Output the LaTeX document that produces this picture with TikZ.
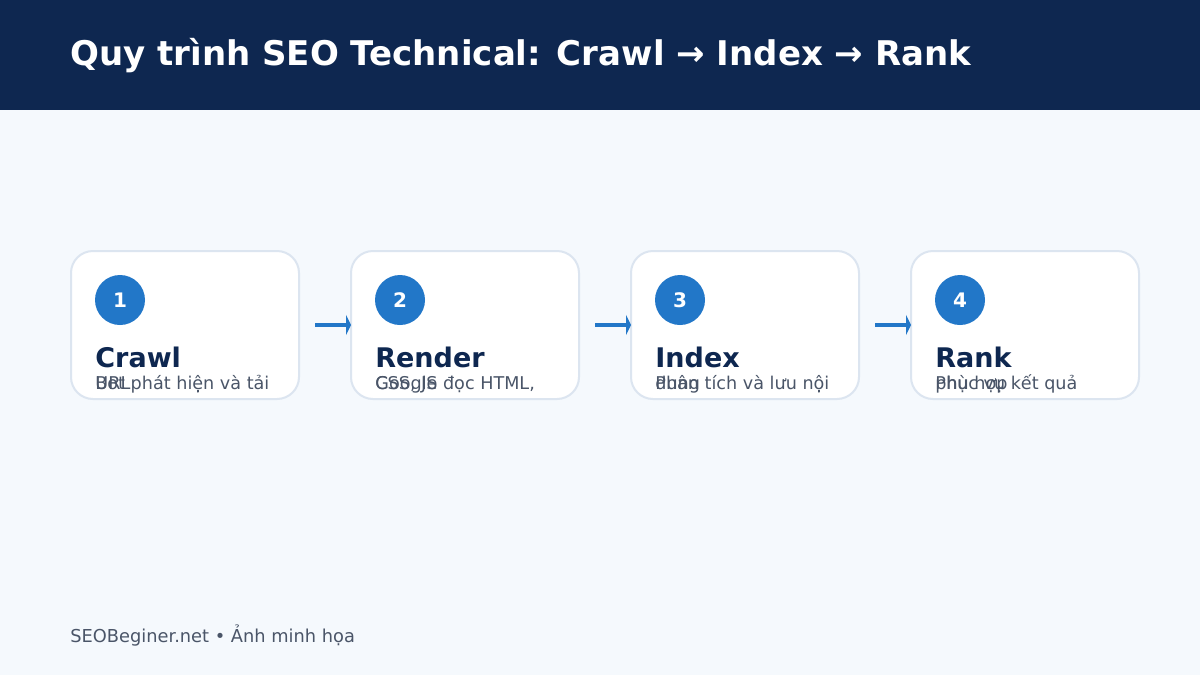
\documentclass[tikz,border=0pt]{standalone}
\usepackage{fontspec}
\setmainfont{DejaVu Sans}
\usetikzlibrary{arrows.meta}
\definecolor{navy}{HTML}{0E2750}
\definecolor{bgpage}{HTML}{F5F9FD}
\definecolor{stepblue}{HTML}{2277C8}
\definecolor{boxline}{HTML}{DCE5F0}
\definecolor{desc}{HTML}{4A5568}
\tikzset{
  stepbox/.style={draw=boxline, line width=1pt, fill=white, rounded corners=11pt},
  num/.style={circle, fill=stepblue, minimum size=25pt, inner sep=0pt, text=white, font=\bfseries\fontsize{10}{12}\selectfont},
  ttl/.style={anchor=base west, inner sep=0pt, text=navy, font=\bfseries\fontsize{13.5}{15}\selectfont},
  dsc/.style={anchor=base west, inner sep=0pt, text=desc, font=\fontsize{8.8}{10}\selectfont},
  link/.style={stepblue, line width=2pt, -{Triangle[length=2.5pt,width=10pt]}}
}
\begin{document}
\begin{tikzpicture}[x=0.5pt,y=-0.5pt]
  \fill[bgpage] (0,0) rectangle (1200,675);
  \fill[navy] (0,0) rectangle (1200,110);
  \node[anchor=base west, inner sep=0pt, text=white, font=\bfseries\fontsize{17}{20}\selectfont] (title) at (70,65) {Quy trình SEO Technical: Crawl → Index → Rank};
  % steps
  \foreach \i/\x/\t/\a/\b in {1/71/Crawl/{Bot phát hiện và tải}/{URL},
                               2/351/Render/{Google đọc HTML,}/{CSS, JS},
                               3/631/Index/{Phân tích và lưu nội}/{dung},
                               4/911/Rank/{Phục vụ kết quả}/{phù hợp}} {
    \draw[stepbox] (\x,251) rectangle ++(228,148);
    \node[num] (n\i) at (\x+49,300) {\i};
    \node[ttl] (t\i) at (\x+24,367) {\t};
    \node[dsc] (d\i) at (\x+24,389) {\a};
    \node[dsc] (e\i) at (\x+24,389) {\b};
    \coordinate (l\i) at (\x,325);
    \coordinate (r\i) at (\x+244,325);
  }
  \draw[link] (r1) -- (l2);
  \draw[link] (r2) -- (l3);
  \draw[link] (r3) -- (l4);
  \node[anchor=base west, inner sep=0pt, text=desc, font=\fontsize{8.9}{10}\selectfont] (foot) at (70,642) {SEOBeginer.net • Ảnh minh họa};
\end{tikzpicture}
\end{document}
